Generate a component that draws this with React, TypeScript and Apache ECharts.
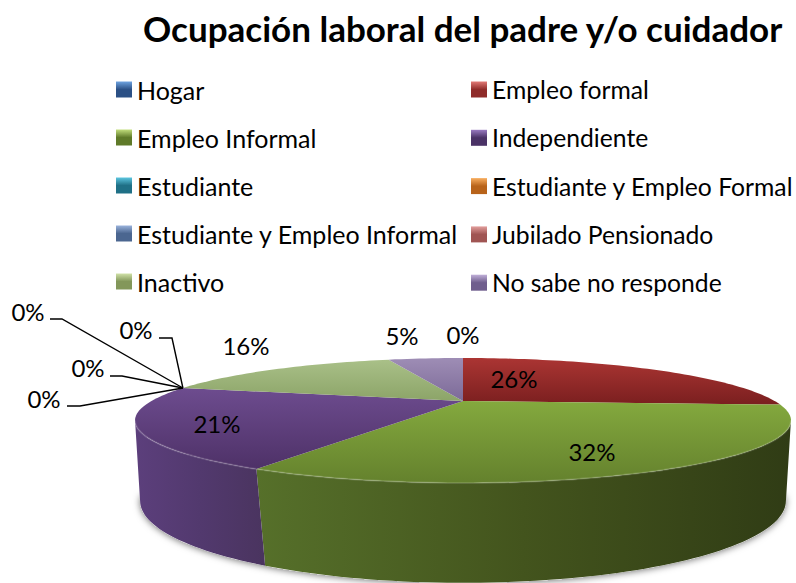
import React, { useEffect, useRef } from "react";
import * as echarts from "echarts";

const TITLE = "Ocupación laboral del padre y/o cuidador";
const CATEGORIES = [
  "Hogar", "Empleo formal", "Empleo Informal", "Independiente", "Estudiante",
  "Estudiante y Empleo Formal", "Estudiante y Empleo Informal", "Jubilado Pensionado",
  "Inactivo", "No sabe no responde",
];
const VALUES = [0, 26, 32, 21, 0, 0, 0, 0, 16, 5];

const LEGEND_LIGHT = ["#6ea3e0", "#e27a76", "#c2de7c", "#9a7bc2", "#5cc6e0", "#f8ae60", "#9ab3dc", "#e29e9c", "#d0e2a8", "#c0afd8"];
const LEGEND_DARK = ["#2b5085", "#8f2c2a", "#5f7a29", "#4a3266", "#1f7086", "#b8631a", "#4b6690", "#a05553", "#83975a", "#6f5e8d"];
const FACE_LIGHT = ["#4f81bd", "#ab3533", "#84a93e", "#6d4c8f", "#3fa0bd", "#e08a35", "#7f9ac6", "#cf8583", "#a9c088", "#9e8db5"];
const FACE_DARK = ["#2b5085", "#7a1f1f", "#64812d", "#4e3167", "#1f7086", "#b8631a", "#4b6690", "#a05553", "#8ca468", "#7c6a98"];
const WALL_LEFT = ["#2b5085", "#5e1a1a", "#56702a", "#5c3f7c", "#1f7086", "#b8631a", "#4b6690", "#a05553", "#6f8250", "#5c4c78"];
const WALL_MID = ["#25466f", "#541717", "#43541d", "#52396e", "#1b6275", "#a05617", "#425a7f", "#8c4a49", "#637349", "#514369"];
const WALL_RIGHT = ["#1f3b63", "#4a1414", "#303c15", "#4a345f", "#175565", "#8a4a13", "#38506f", "#78403f", "#55633c", "#463a5b"];

// Where each percentage label sits, and the elbow of its leader when it has one.
const LABEL_AT: number[][] = [
  [463, 334], [514, 378], [592, 451], [217, 423], [28, 311],
  [136, 329], [88, 367], [44, 398], [246, 345], [402, 335],
];
const LEADER_FROM: (number[][] | null)[] = [
  null, null, null, null, [[50, 319], [62, 319]], [[159, 338], [172, 338]],
  [[110, 376], [122, 376]], [[67, 406], [80, 406]], null, null,
];

const FONT = "Lato";
const TOP = { cx: 463, cy: 401, a: 311.6, b: 56.4, p: 0.312 };
const BOTTOM = { cx: 463, cy: 478, a: 310, b: 75.5, p: 0.28 };
const WALL_FROM = 108;
const WALL_TO = 252;

function project(deg: number, e: typeof TOP) {
  const t = (deg * Math.PI) / 180;
  const u = Math.sin(t);
  const v = -Math.cos(t);
  const s = 1 / (1 - e.p * v);
  return [e.cx + e.a * u * s, e.cy + e.b * v * s];
}

function arc(from: number, to: number, e: typeof TOP) {
  const pts: number[][] = [];
  const n = Math.max(1, Math.ceil((to - from) / 1.5));
  for (let i = 0; i <= n; i++) pts.push(project(from + ((to - from) * i) / n, e));
  return pts;
}

const grad = (x2: number, y2: number, ...cols: string[]) =>
  new echarts.graphic.LinearGradient(
    0, 0, x2, y2,
    cols.map((color, i) => ({ offset: i / (cols.length - 1), color })),
  );

function sliceItem(index: number) {
  return (_params: any, api: any) => {
    const value = api.value(0);
    const total = VALUES.reduce((s, v) => s + v, 0);
    const before = VALUES.slice(0, index).reduce((s, v) => s + v, 0);
    const start = (before / total) * 360;
    const end = ((before + value) / total) * 360;
    const children: any[] = [];
    const wa = Math.max(start, WALL_FROM);
    const wb = Math.min(end, WALL_TO);
    if (wb > wa) {
      const points = [...arc(wa, wb, TOP), ...arc(wa, wb, BOTTOM).reverse()];
      children.push({
        type: "polygon",
        shape: { points },
        style: { fill: grad(1, 0, WALL_LEFT[index], WALL_MID[index], WALL_RIGHT[index]) },
      });
    }
    if (end > start) {
      children.push({
        type: "polygon",
        shape: { points: [[TOP.cx, TOP.cy], ...arc(start, end, TOP)] },
        style: { fill: grad(0, 1, FACE_LIGHT[index], FACE_DARK[index]) },
      });
    }
    if (wb > wa) {
      children.push({
        type: "polyline",
        shape: { points: arc(wa, wb, TOP) },
        style: { fill: "none", stroke: "rgba(255,255,255,0.14)", lineWidth: 2 },
      });
    }
    const at = LABEL_AT[index];
    const leader = LEADER_FROM[index];
    if (leader) {
      children.push({
        type: "polyline",
        shape: { points: [...leader, project(start, TOP)] },
        style: { fill: "none", stroke: "#000", lineWidth: 1.4 },
        z2: 9,
      });
    }
    children.push({
      type: "text",
      z2: 10,
      style: {
        text: `${value}%`, x: at[0], y: at[1], align: "center", verticalAlign: "middle",
        fontFamily: FONT, fontSize: 24, fill: "#000",
      },
    });
    return { type: "group", children };
  };
}

function shadowItem() {
  const wa = arc(WALL_FROM - 6, WALL_TO + 6, BOTTOM);
  return {
    type: "polygon",
    shape: { points: wa },
    style: { fill: "#fff", shadowBlur: 7, shadowColor: "rgba(0,0,0,0.55)", shadowOffsetY: 1 },
  };
}

const legendData = (indices: number[]) =>
  indices.map((i) => ({
    name: CATEGORIES[i],
    itemStyle: { color: grad(0, 1, LEGEND_LIGHT[i], LEGEND_DARK[i], LEGEND_DARK[i]) },
  }));

const legendBase = {
  orient: "vertical",
  top: 77,
  padding: 0,
  itemWidth: 16,
  itemHeight: 16,
  itemGap: 23,
  icon: "rect",
  selectedMode: false,
};

export default function App() {
  const ref = useRef<HTMLDivElement>(null);
  useEffect(() => {
    const chart = echarts.init(ref.current!, undefined, { renderer: "svg" });
    chart.setOption({
      animation: false,
      backgroundColor: "#fff",
      title: {
        text: TITLE,
        left: 143,
        top: 10,
        padding: 0,
        textStyle: { fontFamily: FONT, fontSize: 35, fontWeight: "bold", color: "#000" },
      },
      legend: [
        {
          ...legendBase,
          left: 116,
          textStyle: { fontFamily: FONT, fontSize: 25, color: "#000" },
          data: legendData([0, 2, 4, 6, 8]),
        },
        {
          ...legendBase,
          left: 471,
          itemGap: 23.3,
          textStyle: { fontFamily: FONT, fontSize: 24.7, color: "#000" },
          data: legendData([1, 3, 5, 7, 9]),
        },
      ],
      series: [
        {
          type: "custom",
          name: "sombra",
          coordinateSystem: "none",
          silent: true,
          data: [[0]],
          z: 1,
          renderItem: shadowItem,
        },
        ...CATEGORIES.map((name, i) => ({
          type: "custom",
          name,
          coordinateSystem: "none",
          silent: true,
          z: 2,
          itemStyle: { color: LEGEND_DARK[i] },
          data: [[VALUES[i]]],
          renderItem: sliceItem(i),
        })),
      ],
    });
    return () => chart.dispose();
  }, []);
  return <div ref={ref} style={{ position: "fixed", left: 0, top: 0, width: 796, height: 583 }} />;
}
